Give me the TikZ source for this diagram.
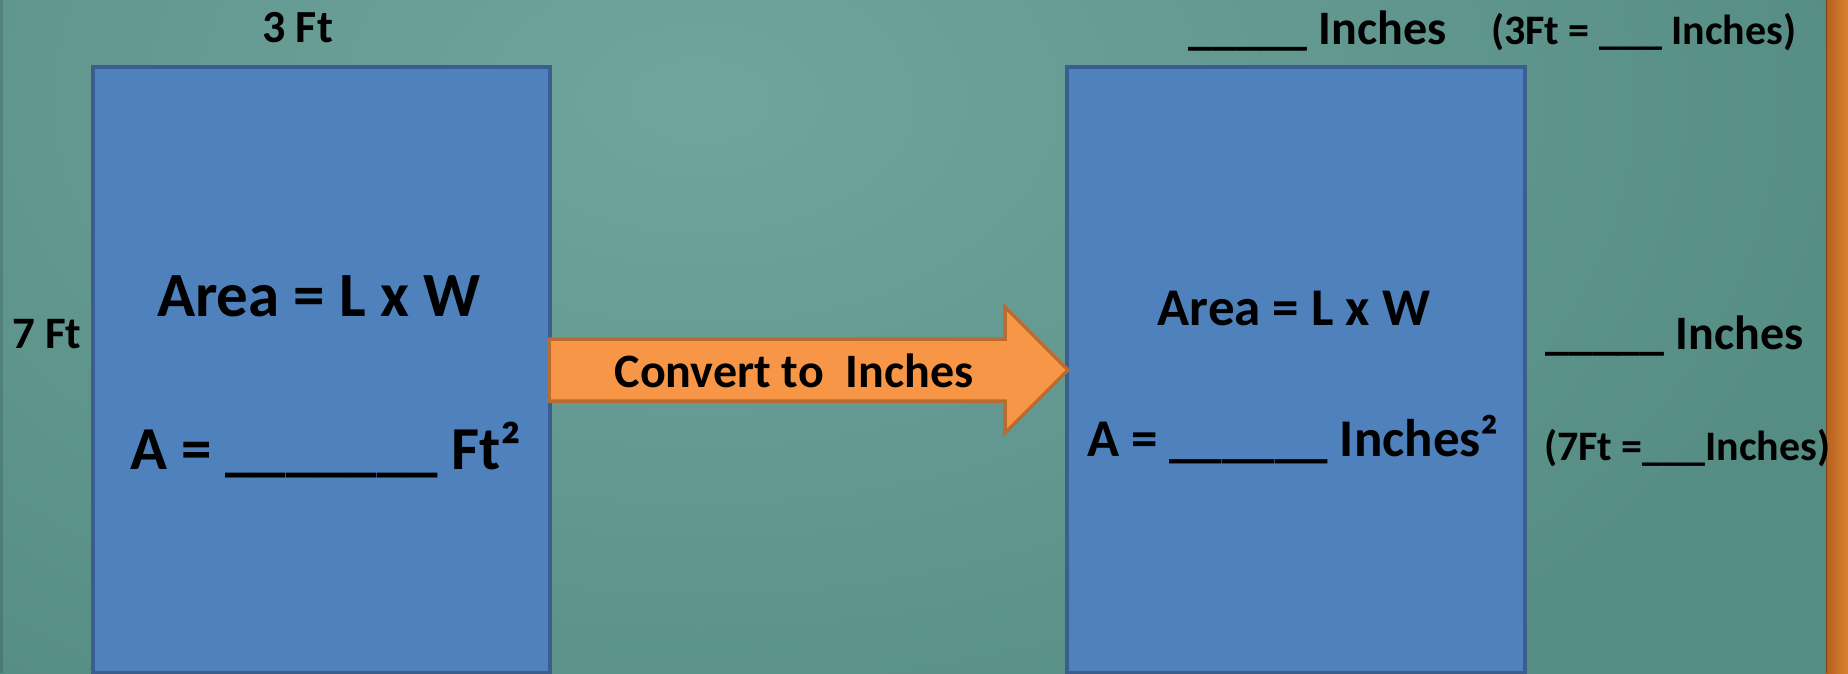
\documentclass[tikz,border=0pt]{standalone}
\usepackage{fontspec}
\setmainfont{Carlito}
\definecolor{boardlight}{HTML}{70A59D}
\definecolor{boarddark}{HTML}{558C83}
\definecolor{boxfill}{HTML}{4F81BD}
\definecolor{boxline}{HTML}{3A5F8E}
\definecolor{arrfill}{HTML}{F79646}
\definecolor{arrline}{HTML}{B96C2F}
\definecolor{wooddark}{HTML}{B5601F}
\definecolor{woodlight}{HTML}{D98331}
\begin{document}
\begin{tikzpicture}[x=1pt,y=-1pt,
  bluebox/.style={draw=boxline, fill=boxfill, line width=3.5pt, inner sep=0pt, anchor=north west},
  arrowsty/.style={draw=arrline, fill=arrfill, line width=3.5pt, line join=miter},
  lbl/.style={font=\bfseries\fontsize{#1}{#1}\selectfont, inner sep=0pt, text=black},
  lbl/.default=46]
\useasboundingbox (0,0) rectangle (1848,673);
% board background
\begin{scope}
\clip (0,0) rectangle (1848,673);
\fill[boarddark] (0,0) rectangle (1848,673);
\shade[inner color=boardlight, outer color=boarddark] (-500,-650) rectangle (1900,850);
\end{scope}
\fill[black, opacity=0.12] (0,0) rectangle (3,673);
% wood strip
\shade[left color=wooddark, right color=woodlight] (1826,0) rectangle (1848,673);
\draw[black, line width=1pt, opacity=0.3] (1826,0) -- (1826,673);
% boxes
\node[bluebox, minimum width=457pt, minimum height=606pt] (lbox) at (91,65) {};
\node[bluebox, minimum width=458pt, minimum height=606pt] (rbox) at (1065,65) {};
% arrow
\draw[arrowsty] (549,339) -- (1005,339) -- (1005,307) -- (1068,370) -- (1005,433) -- (1005,401) -- (549,401) -- cycle;
\node[lbl=48, anchor=base] (conv) at (794,387) {Convert to\ \ Inches};
% left labels
\node[lbl=46, anchor=base west] (three) at (262,42) {3 Ft};
\node[lbl=45, anchor=base west] (seven) at (12,348) {7 Ft};
\node[lbl=63, anchor=base] (larea) at (319,316) {Area = L x W};
\node[lbl=61, anchor=base] (la) at (326,469) {A = \_\_\_\_\_\_\_ Ft²};
% right labels
\node[lbl=53, anchor=base] (rarea) at (1294,325) {Area = L x W};
\node[lbl=53, anchor=base] (ra) at (1293,456) {A = \_\_\_\_\_\_ Inches²};
\node[lbl=48, anchor=base west] (topin) at (1188,44) {\_\_\_\_\_ Inches};
\node[lbl=42, anchor=base west] (threeft) at (1491,44) {(3Ft = \_\_\_ Inches)};
\node[lbl=48, anchor=base west] (sidein) at (1545,349) {\_\_\_\_\_ Inches};
\node[lbl=42, anchor=base west] (sevenft) at (1544,460) {(7Ft =\_\_\_Inches)};
\end{tikzpicture}
\end{document}
